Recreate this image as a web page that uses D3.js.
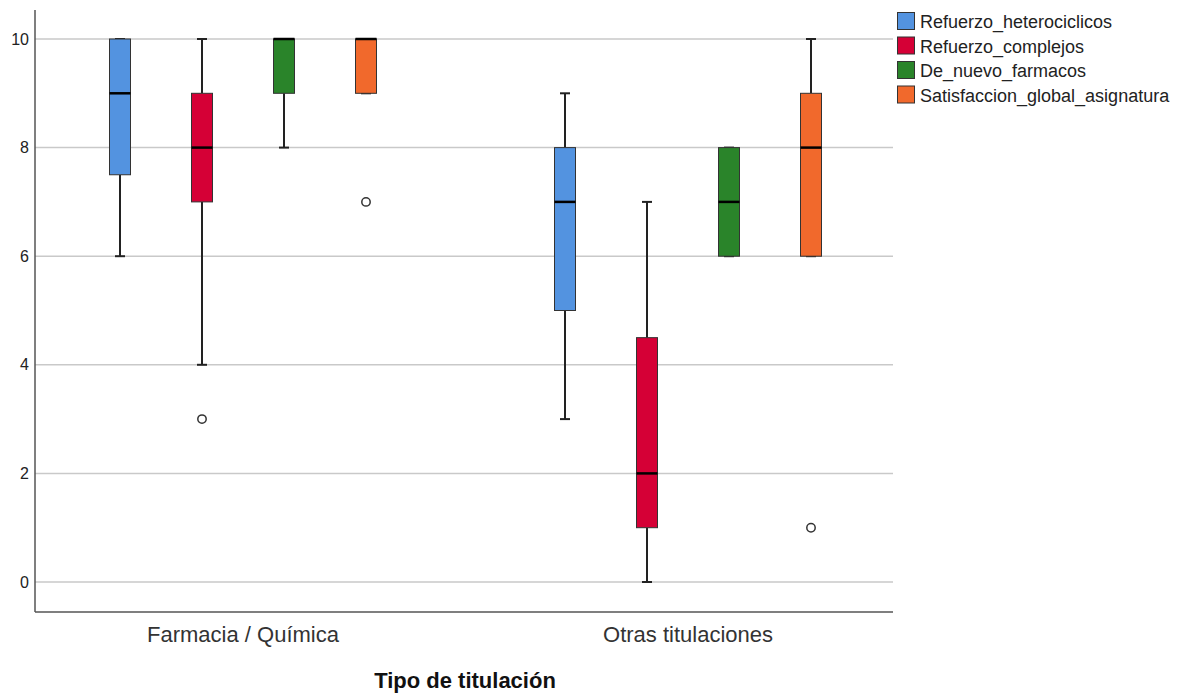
<!DOCTYPE html>
<html>
<head>
<meta charset="utf-8">
<script src="https://cdn.jsdelivr.net/npm/d3@7"></script>
<style>
  html, body { margin: 0; padding: 0; background: #fff; }
  svg { display: block; font-family: Arial, "Liberation Sans", sans-serif; }
</style>
</head>
<body>
<svg id="chart" width="1186" height="693"></svg>
<script>
// ── Data ─────────────────────────────────────────────────────────────
const groups = ['Farmacia / Química', 'Otras titulaciones'];
const seriesNames = ['Refuerzo_heterociclicos', 'Refuerzo_complejos', 'De_nuevo_farmacos', 'Satisfaccion_global_asignatura'];
const seriesColors = ['#5393e0', '#d50036', '#2a842a', '#f1692c'];
const yTicks = [0, 2, 4, 6, 8, 10];

// per group, per series: [min, q1, median, q3, max]
const statsFarmacia = [
  [6, 7.5, 9, 10, 10],
  [4, 7, 8, 9, 10],
  [8, 9, 10, 10, 10],
  [9, 9, 10, 10, 10],
];
const statsOtras = [
  [3, 5, 7, 8, 9],
  [0, 1, 2, 4.5, 7],
  [6, 6, 7, 8, 8],
  [6, 6, 8, 9, 10],
];
// outliers: [groupIndex, seriesIndex, value]
const outliers = [
  [0, 1, 3],
  [0, 3, 7],
  [1, 3, 1],
];

const boxStats = [statsFarmacia, statsOtras];

// ── Layout ───────────────────────────────────────────────────────────
const svg = d3.select('#chart');
const plot = { left: 35, right: 893, top: 10, bottom: 612 };

const y = d3.scaleLinear().domain([0, 10]).range([582, 39]);

// outer band puts the group centres at the reference positions
const x0 = d3.scaleBand().domain(groups).range([20.5, 910.5]).padding(0);
const x1 = d3.scaleBand().domain(seriesNames).range([-164, 164]).padding(0);
const boxW = 21, capW = 10;

const cx = (gi, si) => x0(groups[gi]) + x0.bandwidth() / 2 + x1(seriesNames[si]) + x1.bandwidth() / 2;

// Gridlines
svg.append('g')
  .selectAll('line')
  .data(yTicks)
  .join('line')
  .attr('x1', plot.left).attr('x2', plot.right)
  .attr('y1', d => y(d)).attr('y2', d => y(d))
  .attr('stroke', '#c9c9c9').attr('stroke-width', 1.5);

// Axes (SPSS style: plain lines, no tick marks)
svg.append('line')
  .attr('x1', plot.left).attr('x2', plot.left)
  .attr('y1', plot.top).attr('y2', plot.bottom)
  .attr('stroke', '#555').attr('stroke-width', 1.5);
svg.append('line')
  .attr('x1', plot.left).attr('x2', plot.right)
  .attr('y1', plot.bottom).attr('y2', plot.bottom)
  .attr('stroke', '#555').attr('stroke-width', 1.5);

const yAxis = svg.append('g')
  .attr('transform', `translate(${plot.left},0)`)
  .call(d3.axisLeft(y).tickValues(yTicks).tickSize(0).tickPadding(6));
yAxis.select('.domain').remove();
yAxis.selectAll('text')
  .attr('font-size', 16).attr('fill', '#222')
  .attr('font-family', 'Arial, "Liberation Sans", sans-serif');

// Group labels
svg.append('g')
  .selectAll('text')
  .data(groups)
  .join('text')
  .attr('x', d => x0(d) + x0.bandwidth() / 2)
  .attr('y', 642)
  .attr('text-anchor', 'middle')
  .attr('font-size', 22).attr('fill', '#333')
  .text(d => d);

svg.append('text')
  .attr('x', 465).attr('y', 688)
  .attr('text-anchor', 'middle')
  .attr('font-size', 22).attr('font-weight', 'bold').attr('fill', '#111')
  .text('Tipo de titulación');

// Boxes
boxStats.forEach((gStats, gi) => {
  gStats.forEach((s, si) => {
    const [mn, q1, md, q3, mx] = s;
    const c = cx(gi, si);
    const g = svg.append('g');
    // whiskers
    if (mx > q3) {
      g.append('line').attr('x1', c).attr('x2', c).attr('y1', y(q3)).attr('y2', y(mx))
        .attr('stroke', '#222').attr('stroke-width', 2);
    }
    if (mn < q1) {
      g.append('line').attr('x1', c).attr('x2', c).attr('y1', y(q1)).attr('y2', y(mn))
        .attr('stroke', '#222').attr('stroke-width', 2);
    }
    [mn, mx].forEach(v => {
      g.append('line').attr('x1', c - capW / 2).attr('x2', c + capW / 2)
        .attr('y1', y(v)).attr('y2', y(v))
        .attr('stroke', '#222').attr('stroke-width', 2);
    });
    g.append('rect')
      .attr('x', c - boxW / 2).attr('width', boxW)
      .attr('y', y(q3)).attr('height', y(q1) - y(q3))
      .attr('fill', seriesColors[si]).attr('stroke', '#333').attr('stroke-width', 1);
    g.append('line').attr('x1', c - boxW / 2).attr('x2', c + boxW / 2)
      .attr('y1', y(md)).attr('y2', y(md))
      .attr('stroke', '#000').attr('stroke-width', 2.5);
  });
});

// Outliers
svg.append('g')
  .selectAll('circle')
  .data(outliers)
  .join('circle')
  .attr('cx', d => cx(d[0], d[1]))
  .attr('cy', d => y(d[2]))
  .attr('r', 4.2)
  .attr('fill', '#fff').attr('stroke', '#333').attr('stroke-width', 1.5);

// Legend
const legend = svg.append('g').attr('transform', 'translate(897,12)');
seriesNames.forEach((name, i) => {
  const row = legend.append('g').attr('transform', `translate(0,${i * 24.5})`);
  row.append('rect').attr('x', 0.5).attr('y', 0.5).attr('width', 17).attr('height', 17)
    .attr('fill', seriesColors[i]).attr('stroke', '#333').attr('stroke-width', 1);
  row.append('text').attr('x', 23).attr('y', 16)
    .attr('font-size', 18).attr('fill', '#222').text(name);
});
</script>
</body>
</html>
